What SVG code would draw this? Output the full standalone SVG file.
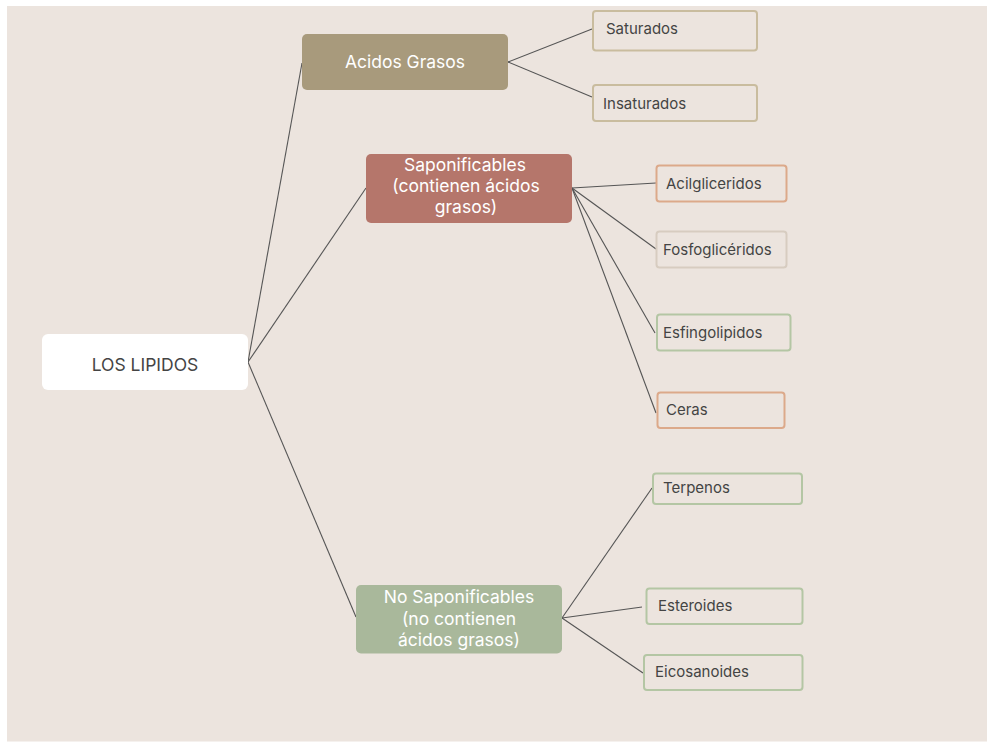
<svg xmlns="http://www.w3.org/2000/svg" width="987" height="742" viewBox="0 0 987 742">
<style>
text{font-family:Inter,"Liberation Sans",sans-serif}
.lead{fill:#ffffff;font-size:17.5px;text-anchor:middle}
.leaf{fill:#444444;font-size:15px}
.box{fill:none;stroke-width:2}
.tan{stroke:#C9BC9E}
.ora{stroke:#DCA98A}
.gry{stroke:#D7CCC0}
.grn{stroke:#B4C6A4}
#links line{stroke:#555555;stroke-width:1.1}
</style>
<rect x="0" y="0" width="987" height="742" fill="#ffffff"/>
<rect x="7" y="6" width="980" height="735.5" fill="#ECE4DE"/>
<g id="links">
<line x1="248" y1="362" x2="302" y2="63"/>
<line x1="248" y1="362" x2="366" y2="188"/>
<line x1="248" y1="362" x2="356" y2="617"/>
<line x1="508" y1="62" x2="592" y2="29"/>
<line x1="508" y1="62" x2="592" y2="97"/>
<line x1="572" y1="188" x2="656" y2="183"/>
<line x1="572" y1="188" x2="656" y2="249"/>
<line x1="572" y1="188" x2="655" y2="333"/>
<line x1="572" y1="188" x2="656" y2="413"/>
<line x1="562" y1="618" x2="652" y2="488"/>
<line x1="562" y1="618" x2="642" y2="607"/>
<line x1="562" y1="618" x2="643" y2="673"/>
</g>
<g id="n-lipidos">
<rect x="42" y="334" width="206" height="56" rx="6" fill="#ffffff"/>
<text x="145" y="371" fill="#444444" font-size="17.5" text-anchor="middle">LOS LIPIDOS</text>
</g>
<g id="n-acidos">
<rect x="302" y="34" width="206" height="56" rx="5" fill="#A89A7C"/>
<text x="405" y="68" class="lead" font-size="18.5">Acidos Grasos</text>
</g>
<g id="n-saturados">
<rect x="593" y="11" width="164" height="39.5" rx="3" class="box tan"/>
<text x="606" y="34" class="leaf">Saturados</text>
</g>
<g id="n-insaturados">
<rect x="593" y="85" width="164" height="36" rx="3" class="box tan"/>
<text x="603" y="109" class="leaf">Insaturados</text>
</g>
<g id="n-sapon">
<rect x="366" y="154" width="206" height="69" rx="5" fill="#B5766B"/>
<text x="465" y="171" class="lead">Saponificables</text>
<text x="466" y="192.3" class="lead">(contienen ácidos</text>
<text x="466" y="213.3" class="lead">grasos)</text>
</g>
<g id="n-acil">
<rect x="656.5" y="165.5" width="130" height="36" rx="3" class="box ora"/>
<text x="666" y="189" class="leaf">Acilgliceridos</text>
</g>
<g id="n-fosfo">
<rect x="656.5" y="231.5" width="130" height="36" rx="3" class="box gry"/>
<text x="663" y="255" class="leaf">Fosfoglicéridos</text>
</g>
<g id="n-esfingo">
<rect x="657" y="314.5" width="133.5" height="36" rx="3" class="box grn"/>
<text x="663" y="338" class="leaf">Esfingolipidos</text>
</g>
<g id="n-ceras">
<rect x="657.5" y="392.5" width="127" height="35.5" rx="3" class="box ora"/>
<text x="666" y="415" class="leaf">Ceras</text>
</g>
<g id="n-nosapon">
<rect x="356" y="585" width="206" height="68.5" rx="5" fill="#A9B89B"/>
<text x="459" y="603.3" class="lead">No Saponificables</text>
<text x="459" y="625" class="lead">(no contienen</text>
<text x="459" y="645.7" class="lead">ácidos grasos)</text>
</g>
<g id="n-terpenos">
<rect x="653" y="473.5" width="149" height="30.5" rx="3" class="box grn"/>
<text x="663" y="493" class="leaf">Terpenos</text>
</g>
<g id="n-esteroides">
<rect x="646.5" y="588.5" width="156" height="35.5" rx="3" class="box grn"/>
<text x="658" y="611" class="leaf">Esteroides</text>
</g>
<g id="n-eicosanoides">
<rect x="644" y="655" width="158.5" height="35" rx="3" class="box grn"/>
<text x="655" y="677" class="leaf">Eicosanoides</text>
</g>
</svg>
